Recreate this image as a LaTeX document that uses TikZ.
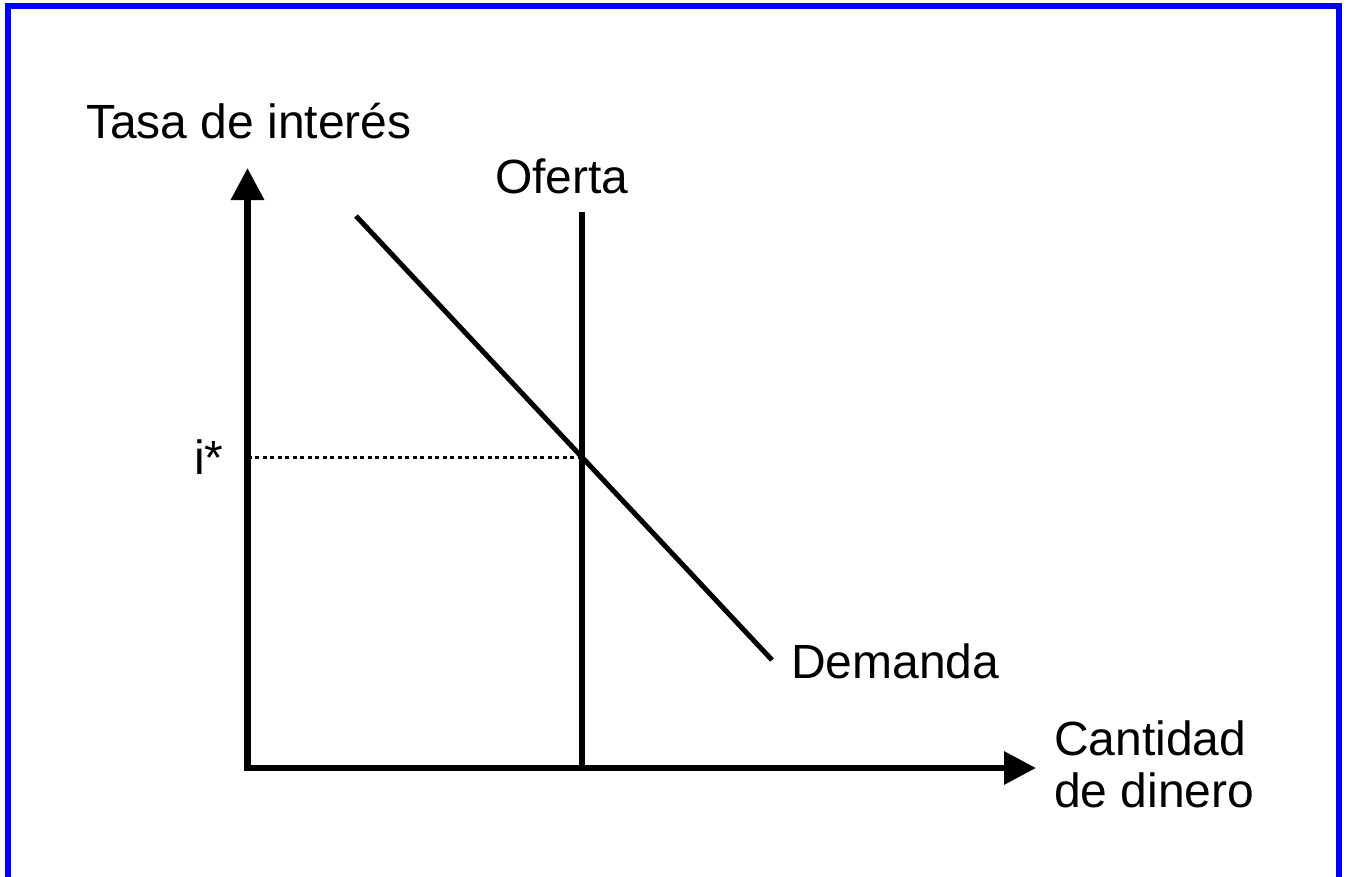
\documentclass[tikz,border=0pt]{standalone}
\usepackage{fontspec}
\setmainfont{Liberation Sans}
\usetikzlibrary{arrows.meta}
\begin{document}
\begin{tikzpicture}[x=1pt,y=-1pt,
  lbl/.style={inner sep=0pt,anchor=base west,font=\fontsize{48}{52}\selectfont},
  axisline/.style={line width=6.5pt,miter limit=10,{Triangle[length=32pt,width=32pt]}-{Triangle[length=32pt,width=32pt]}},
  curve/.style={line width=5pt},
  supplyline/.style={line width=6.5pt},
  guide/.style={line width=3.2pt,dash pattern=on 4pt off 3.5pt}]
\useasboundingbox (0,0) rectangle (1346,876);
\fill[white] (0,0) rectangle (1346,876);
\draw[blue,line width=6pt] (8,890) -- (8,6) -- (1338.5,6) -- (1338.5,890);
\coordinate (O) at (247.5,768);
\coordinate (ytop) at (247.5,168);
\coordinate (xend) at (1036,768);
\coordinate (s1) at (582,212);
\coordinate (s0) at (582,768);
\coordinate (d1) at (356,216);
\coordinate (d2) at (772,660);
\coordinate (eq) at (intersection of d1--d2 and s1--s0);
\coordinate (ieq) at (O |- eq);
\draw[axisline] (ytop) -- (O) -- (xend);
\draw[supplyline] (s1) -- (s0);
\draw[curve] (d1) -- (d2);
\draw[guide] (ieq) -- (eq);
\node[lbl] (ylab) at (86,138) {Tasa de interés};
\node[lbl] (ofl) at (495,193) {Oferta};
\node[lbl] (istar) at (194,474) {i*};
\node[lbl] (deml) at (791,678) {Demanda};
\node[lbl] (xlab1) at (1054,755) {Cantidad};
\node[lbl] (xlab2) at (1054,807) {de dinero};
\end{tikzpicture}
\end{document}
